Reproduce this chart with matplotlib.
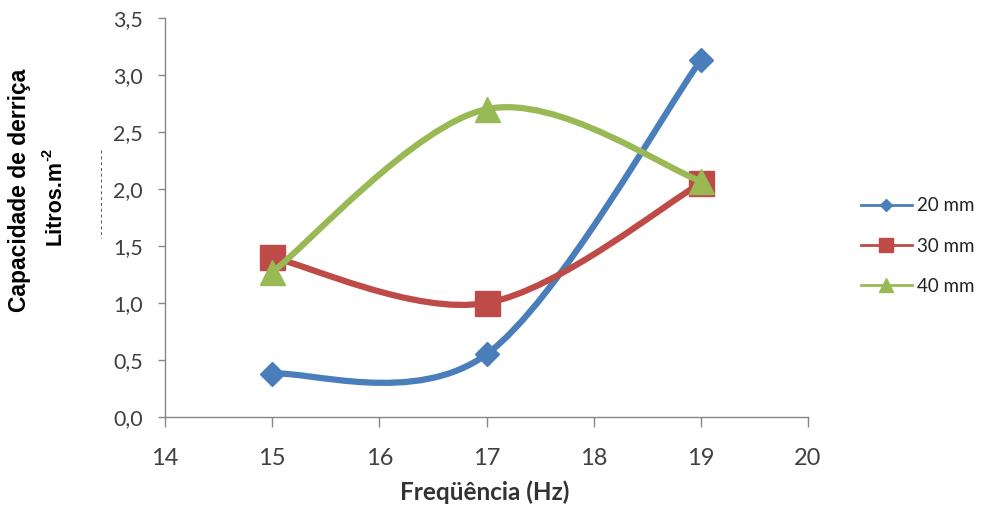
import matplotlib
matplotlib.use("Agg")
import matplotlib.pyplot as plt
from matplotlib.path import Path
from matplotlib.patches import PathPatch
from matplotlib.lines import Line2D

freq = [15, 17, 19]
s20 = [0.38, 0.55, 3.13]
s30 = [1.40, 1.00, 2.05]
s40 = [1.27, 2.70, 2.07]
series_names = ["20 mm", "30 mm", "40 mm"]
xticks = [14, 15, 16, 17, 18, 19, 20]
yticks = [0.0, 0.5, 1.0, 1.5, 2.0, 2.5, 3.0, 3.5]
ytick_labels = ["0,0", "0,5", "1,0", "1,5", "2,0", "2,5", "3,0", "3,5"]

colors = ["#4A7EBB", "#BE4B48", "#98B954"]
markers = ["D", "s", "^"]
msizes = [12, 18, 18]

W, H = 982, 508
fig = plt.figure(figsize=(W / 100, H / 100), dpi=100)
L, R, T, B = 165, 808, 18, 417
ax = fig.add_axes([L / W, 1 - B / H, (R - L) / W, (B - T) / H])
ax.set_xlim(14, 20)
ax.set_ylim(0, 3.5)


def smooth_path(x, y):
    verts = [(x[0], y[0])]
    codes = [Path.MOVETO]
    n = len(x)
    for i in range(n - 1):
        p0 = i - 1 if i > 0 else i
        p3 = i + 2 if i + 2 < n else i + 1
        c1 = (x[i] + (x[i + 1] - x[p0]) / 6, y[i] + (y[i + 1] - y[p0]) / 6)
        c2 = (x[i + 1] - (x[p3] - x[i]) / 6, y[i + 1] - (y[p3] - y[i]) / 6)
        verts += [c1, c2, (x[i + 1], y[i + 1])]
        codes += [Path.CURVE4] * 3
    return Path(verts, codes)


handles = []
for k, (ys, c, m, ms, name) in enumerate(zip([s20, s30, s40], colors, markers, msizes, series_names)):
    patch = PathPatch(smooth_path(freq, ys), facecolor="none", edgecolor=c,
                      lw=4.5, capstyle="round", joinstyle="round", zorder=2 + k)
    ax.add_patch(patch)
    ax.plot(freq, ys, linestyle="none", marker=m, markersize=ms, color=c,
            markeredgecolor=c, zorder=2 + k)
    handles.append(Line2D([], [], color=c, lw=2, marker=m,
                          markersize=ms * 0.55, markeredgecolor=c, label=name))

for s in ["top", "right"]:
    ax.spines[s].set_visible(False)
for s in ["left", "bottom"]:
    ax.spines[s].set_color("#868686")
    ax.spines[s].set_linewidth(1.0)

ax.set_xticks(xticks)
ax.set_xticklabels([str(v) for v in xticks])
ax.set_yticks(yticks)
ax.set_yticklabels(ytick_labels)
ax.tick_params(axis="y", direction="out", length=5, width=1, color="#868686",
               pad=11, labelsize=15.5, labelcolor="#404040")
ax.tick_params(axis="x", direction="out", length=7, width=1, color="#868686",
               pad=15, labelsize=17, labelcolor="#404040")
for lab in ax.get_xticklabels() + ax.get_yticklabels():
    lab.set_family("Lato")

fig.text(485 / W, 1 - 492 / H, "Freqüência (Hz)", ha="center", va="center",
         fontsize=17.5, fontweight="bold", family="Lato", color="#333333")
fig.text(20 / W, 1 - 190 / H, "Capacidade de derriça", rotation=90, ha="center",
         va="center", fontsize=16.5, fontweight="bold", family="Liberation Sans",
         color="black")
fig.text(55 / W, 1 - 245 / H, "Litros.m", rotation=90, ha="center",
         va="bottom", fontsize=15.5, fontweight="bold",
         family=["Liberation Sans Narrow", "Liberation Sans"], color="black")
fig.text(47 / W, 1 - 154 / H, "-2", rotation=90, ha="center",
         va="center", fontsize=10.5, fontweight="bold", family="Liberation Sans",
         color="black")

# faint dashed mark left of the axis, as in the source image
fig.add_artist(Line2D([101 / W, 101 / W], [1 - 150 / H, 1 - 238 / H],
                      transform=fig.transFigure, color="#555555", lw=0.7,
                      dashes=(3, 3)))

leg = fig.legend(handles=handles, loc="center left",
                 bbox_to_anchor=(844 / W, 1 - 246 / H), frameon=False,
                 prop={"family": "Lato", "size": 13.5}, handlelength=2.7,
                 handletextpad=0.3, labelspacing=1.25)
for t in leg.get_texts():
    t.set_color("#222222")

fig.savefig("out.png", dpi=100)
